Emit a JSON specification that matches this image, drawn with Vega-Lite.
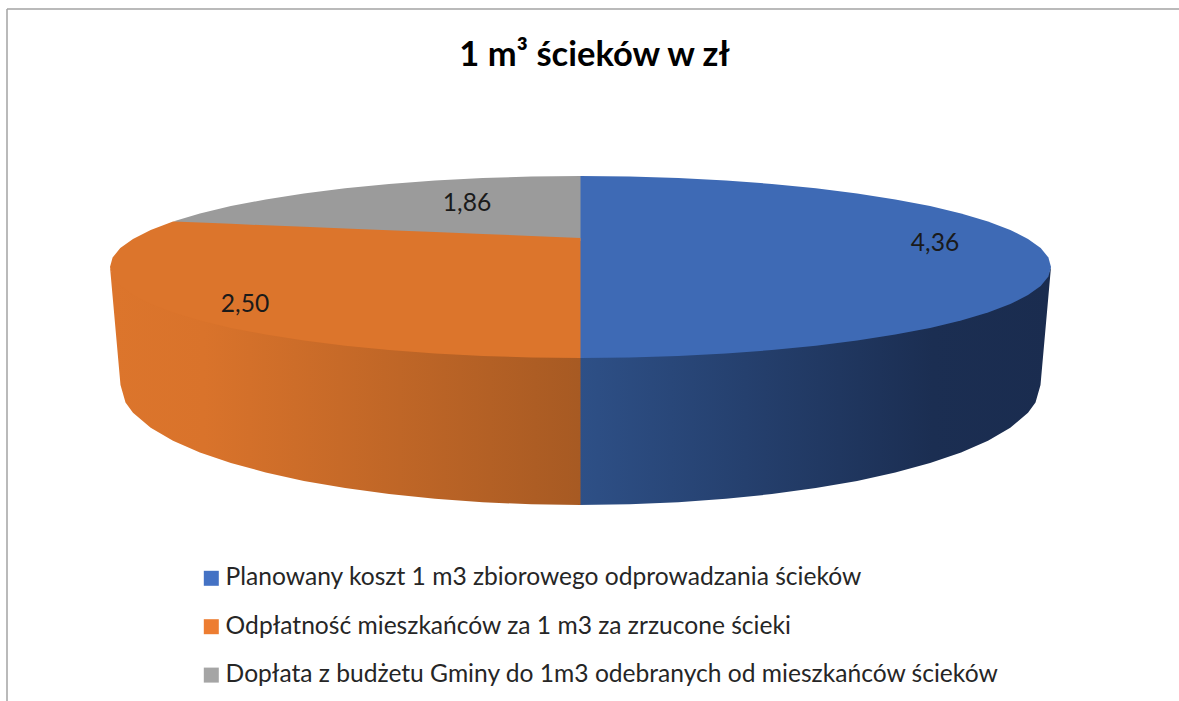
{"$schema":"https://vega.github.io/schema/vega-lite/v6.json","width":1179,"height":701,"autosize":"none","padding":0,"background":"#ffffff","view":{"stroke":null},
"title":{"text":"1 m³ ścieków w zł","font":"Lato","fontSize":34.5,"fontWeight":"bold","color":"#000000","anchor":"middle","frame":"group","dx":5,"offset":-73},
"datasets":{
"slices":[{"slice":"Planowany koszt 1 m3 zbiorowego odprowadzania ścieków","value":4.36,"label":"4,36","cx":935,"cy":244},{"slice":"Odpłatność mieszkańców za 1 m3 za zrzucone ścieki","value":2.5,"label":"2,50","cx":245,"cy":305},{"slice":"Dopłata z budżetu Gminy do 1m3 odebranych od mieszkańców ścieków","value":1.86,"label":"1,86","cx":467,"cy":204}],
"frame":[{"x":7,"y":9,"x2":7,"y2":701},{"x":7,"y":9,"x2":1179,"y2":9}],
"blueSide":[{"x":578,"y":352,"y2":505},{"x":629.7,"y":352,"y2":504.3},{"x":678.3,"y":351,"y2":502.3},{"x":725.9,"y":349,"y2":498.8},{"x":771.9,"y":346,"y2":494.1},{"x":815.8,"y":342,"y2":488.1},{"x":857.1,"y":337,"y2":480.9},{"x":895.3,"y":331,"y2":472.5},{"x":930.1,"y":324,"y2":463},{"x":961.1,"y":317,"y2":452.4},{"x":988,"y":309,"y2":440.7},{"x":1010.3,"y":300,"y2":427.8},{"x":1028,"y":291,"y2":412.8},{"x":1035.5,"y":287,"y2":402.6},{"x":1040.5,"y":283,"y2":385},{"x":1048.4,"y":274,"y2":296.2},{"x":1051,"y":267,"y2":267}],
"orangeSide":[{"x":110,"y":267,"y2":267},{"x":112.6,"y":274,"y2":296.2},{"x":120.5,"y":283,"y2":385},{"x":125.5,"y":287,"y2":402.6},{"x":133,"y":291,"y2":412.8},{"x":150.7,"y":300,"y2":427.8},{"x":173,"y":309,"y2":440.7},{"x":199.9,"y":317,"y2":452.4},{"x":230.9,"y":324,"y2":463},{"x":265.7,"y":331,"y2":472.5},{"x":303.9,"y":337,"y2":480.9},{"x":345.2,"y":342,"y2":488.1},{"x":389.1,"y":346,"y2":494.1},{"x":435.1,"y":349,"y2":498.8},{"x":482.7,"y":351,"y2":502.3},{"x":531.3,"y":352,"y2":504.3},{"x":580.5,"y":352,"y2":505}],
"blueTop":[{"x":578,"y":176,"y2":358},{"x":580.5,"y":176,"y2":358},{"x":629.7,"y":176.5,"y2":357.5},{"x":678.3,"y":178,"y2":356},{"x":725.9,"y":180.5,"y2":353.5},{"x":771.9,"y":183.9,"y2":350.1},{"x":815.8,"y":188.2,"y2":345.8},{"x":857.1,"y":193.4,"y2":340.6},{"x":895.3,"y":199.4,"y2":334.6},{"x":930.1,"y":206.1,"y2":327.9},{"x":961.1,"y":213.5,"y2":320.5},{"x":988,"y":221.5,"y2":312.5},{"x":1010.3,"y":230,"y2":304},{"x":1028,"y":238.9,"y2":295.1},{"x":1040.7,"y":248.1,"y2":285.9},{"x":1048.4,"y":257.5,"y2":276.5},{"x":1051,"y":267,"y2":267}],
"orangeTop":[{"x":110,"y":267,"y2":267},{"x":112.6,"y":257.5,"y2":276.5},{"x":120.3,"y":248.1,"y2":285.9},{"x":133,"y":238.9,"y2":295.1},{"x":150.7,"y":230,"y2":304},{"x":173,"y":221.5,"y2":312.5},{"x":199.9,"y":222.6,"y2":320.5},{"x":230.9,"y":223.8,"y2":327.9},{"x":265.7,"y":225.3,"y2":334.6},{"x":303.9,"y":226.8,"y2":340.6},{"x":345.2,"y":228.5,"y2":345.8},{"x":389.1,"y":230.2,"y2":350.1},{"x":435.1,"y":232.1,"y2":353.5},{"x":482.7,"y":234,"y2":356},{"x":531.3,"y":236,"y2":357.5},{"x":580.5,"y":238,"y2":358}],
"grayTop":[{"x":173,"y":221.5,"y2":221.5},{"x":199.9,"y":213.5,"y2":225},{"x":230.9,"y":206.1,"y2":226},{"x":265.7,"y":199.4,"y2":228},{"x":303.9,"y":193.4,"y2":229},{"x":345.2,"y":188.2,"y2":231},{"x":389.1,"y":183.9,"y2":233},{"x":435.1,"y":180.5,"y2":235},{"x":482.7,"y":178,"y2":237},{"x":531.3,"y":176.5,"y2":239},{"x":580.5,"y":176,"y2":241}]
},
"encoding":{"x":{"field":"x","type":"quantitative","axis":null,"scale":{"domain":[0,1179],"nice":false,"zero":false}},"y":{"field":"y","type":"quantitative","axis":null,"scale":{"domain":[701,0],"nice":false,"zero":false}}},
"layer":[
{"data":{"name":"frame"},"mark":{"type":"rule","stroke":"#a3a3a3","strokeWidth":1.5},"encoding":{"x2":{"field":"x2"},"y2":{"field":"y2"}}},
{"data":{"name":"blueSide"},"mark":{"type":"area","orient":"vertical","color":{"gradient":"linear","x1":0,"y1":0,"x2":1,"y2":0,"stops":[{"offset":0,"color":"#2e5087"},{"offset":0.75,"color":"#1b2e52"},{"offset":1,"color":"#1a2c4f"}]}},"encoding":{"y2":{"field":"y2"}}},
{"data":{"name":"orangeSide"},"mark":{"type":"area","orient":"vertical","color":{"gradient":"linear","x1":0,"y1":0,"x2":1,"y2":0,"stops":[{"offset":0,"color":"#dc752c"},{"offset":0.2,"color":"#d9732b"},{"offset":1,"color":"#a75a23"}]}},"encoding":{"y2":{"field":"y2"}}},
{"data":{"name":"blueTop"},"mark":{"type":"area","orient":"vertical","color":"#3e6ab5"},"encoding":{"y2":{"field":"y2"}}},
{"data":{"name":"grayTop"},"mark":{"type":"area","orient":"vertical","color":"#9b9b9b"},"encoding":{"y2":{"field":"y2"}}},
{"data":{"name":"orangeTop"},"mark":{"type":"area","orient":"vertical","color":"#dc752c"},"encoding":{"y2":{"field":"y2"}}},
{"data":{"name":"slices"},"mark":{"type":"point","filled":true,"opacity":0,"size":1},"encoding":{"x":{"field":"cx","type":"quantitative"},"y":{"field":"cy","type":"quantitative"},"color":{"field":"slice","type":"nominal","sort":null,"scale":{"domain":["Planowany koszt 1 m3 zbiorowego odprowadzania ścieków","Odpłatność mieszkańców za 1 m3 za zrzucone ścieki","Dopłata z budżetu Gminy do 1m3 odebranych od mieszkańców ścieków"],"range":["#4472c4","#ed7d31","#a5a5a5"]},"legend":{"title":null,"orient":"none","legendX":199,"legendY":566,"symbolType":"square","symbolSize":225,"symbolOpacity":1,"symbolStrokeWidth":0,"labelFont":"Lato","labelFontSize":24.6,"labelColor":"#262626","labelLimit":1000,"labelOffset":2,"rowPadding":23.4,"padding":0}}}},
{"data":{"name":"slices"},"mark":{"type":"text","font":"Lato","fontSize":24.6,"color":"#1a1a1a","align":"center","baseline":"middle"},"encoding":{"x":{"field":"cx","type":"quantitative"},"y":{"field":"cy","type":"quantitative"},"text":{"field":"label"}}}
]}
